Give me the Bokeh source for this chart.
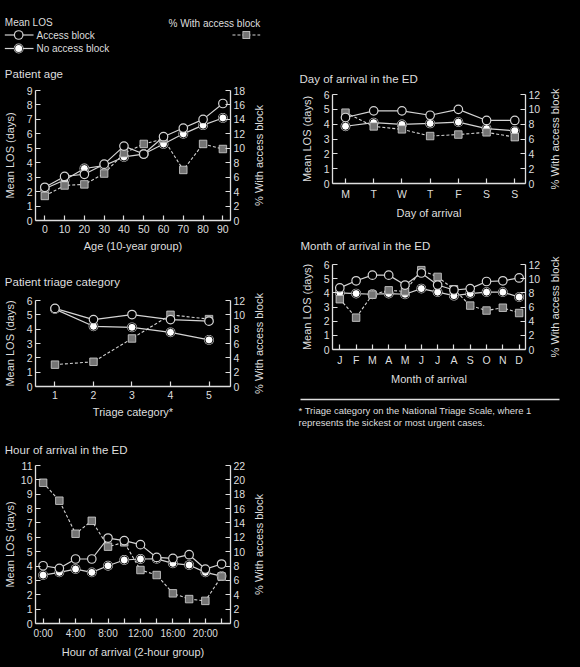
import math
from bokeh.plotting import figure
from bokeh.models import Range1d, LinearAxis, FixedTicker, Spacer
from bokeh.layouts import column, row
from bokeh.embed import file_html
from bokeh.resources import INLINE
from bokeh.core.properties import value

# ---------------- data ----------------
age_x = [0, 10, 20, 30, 40, 50, 60, 70, 80, 90]
age_ab = [2.3, 3.05, 3.2, 3.9, 5.15, 4.6, 5.8, 6.4, 7.0, 8.1]
age_nab = [2.2, 2.8, 3.6, 3.8, 4.4, 4.6, 5.3, 6.0, 6.6, 7.1]
age_pct = [3.4, 4.85, 5.0, 6.5, 9.3, 10.6, 11.3, 7.0, 10.6, 9.9]

triage_x = [1, 2, 3, 4, 5]
triage_ab = [5.45, 4.67, 5.02, 4.67, 4.56]
triage_nab = [5.4, 4.2, 4.13, 3.78, 3.25]
triage_pct = [3.05, 3.45, 6.7, 10.0, 9.4]

hour_x = [0, 2, 4, 6, 8, 10, 12, 14, 16, 18, 20, 22]
hour_ticklabels = {0: "0:00", 4: "4:00", 8: "8:00", 12: "12:00", 16: "16:00", 20: "20:00"}
hour_ab = [4.02, 3.84, 4.49, 4.49, 5.95, 5.77, 5.49, 4.6, 4.53, 4.79, 3.79, 4.14]
hour_nab = [3.37, 3.56, 3.79, 3.56, 4.02, 4.42, 4.49, 4.5, 4.19, 4.07, 3.56, 3.3]
hour_pct = [19.6, 17.1, 12.5, 14.3, 10.7, 11.3, 7.45, 6.75, 4.2, 3.4, 3.15, 6.55]

day_labels = ["M", "T", "W", "T", "F", "S", "S"]
day_ab = [4.45, 4.9, 4.9, 4.6, 5.0, 4.25, 4.25]
day_nab = [3.86, 4.1, 3.98, 4.05, 4.14, 3.7, 3.55]
day_pct = [9.55, 7.7, 7.3, 6.4, 6.6, 6.9, 6.25]

month_labels = ["J", "F", "M", "A", "M", "J", "J", "A", "S", "O", "N", "D"]
month_ab = [4.35, 4.85, 5.25, 5.25, 4.55, 5.4, 4.55, 4.2, 4.3, 4.8, 4.85, 5.05]
month_nab = [4.0, 3.95, 3.9, 3.95, 3.9, 4.3, 4.05, 3.8, 3.95, 4.05, 4.05, 3.7]
month_pct = [7.1, 4.5, 7.75, 8.35, 8.2, 11.2, 10.25, 8.5, 6.2, 5.5, 5.9, 5.15]

# ---------------- style ----------------
FONT = "Liberation Sans"
BG = "#000000"
TXT = "#dedede"
LINE = "#d4d4d4"
SQ = "#747474"
RING = "#111111"


def style_axis(ax):
    ax.axis_line_color = TXT
    ax.axis_line_width = 1.3
    ax.major_tick_line_color = TXT
    ax.major_tick_line_width = 1.2
    ax.major_tick_in = 5
    ax.major_tick_out = 0
    ax.minor_tick_line_color = None
    ax.major_label_text_color = TXT
    ax.major_label_text_font = FONT
    ax.major_label_text_font_size = "10.5px"
    ax.axis_label_text_color = TXT
    ax.axis_label_text_font = FONT
    ax.axis_label_text_font_size = "11px"
    ax.axis_label_text_font_style = "normal"


def panel(title, xs, ab, nab, pct, ymax, pmax, xr, ticks, overrides, xlabel,
          w, h, bl, br, bt, bb, title_xy, ylab_standoff=8, tick_font="10.5px"):
    p = figure(width=w, height=h, x_range=Range1d(*xr), y_range=Range1d(0, ymax),
               output_backend="svg", toolbar_location=None, title=None,
               min_border_left=bl, min_border_right=br,
               min_border_top=bt, min_border_bottom=bb,
               background_fill_color=BG, border_fill_color=BG,
               outline_line_color=None)
    p.grid.visible = False
    p.extra_y_ranges = {"pct": Range1d(0, pmax)}

    fw = w - bl - br
    fh = h - bt - bb

    def px_to_data(px, py):
        # px, py: pixels from the figure's top-left corner
        xd = xr[0] + (px - bl) * (xr[1] - xr[0]) / fw
        yd = (bt + fh - py) * ymax / fh
        return xd, yd

    tx, ty = px_to_data(*title_xy)
    p.text(x=[tx], y=[ty], text=[title], text_color=TXT, text_font=value(FONT),
           text_font_size="11.5px", text_baseline="middle", text_align="left",
           level="overlay")

    rx, ry = px_to_data(bl + fw + 29, bt + fh / 2)
    p.text(x=[rx], y=[ry], text=["% With access block"], angle=math.pi / 2,
           text_color=TXT, text_font=value(FONT), text_font_size="11px",
           text_align="center", text_baseline="middle", level="overlay")

    xa = p.xaxis[0]
    style_axis(xa)
    xa.ticker = FixedTicker(ticks=ticks)
    xa.major_label_overrides = overrides
    xa.major_label_text_font_size = tick_font
    xa.major_label_standoff = 4
    xa.axis_label = xlabel
    xa.axis_label_standoff = 4

    ya = p.yaxis[0]
    style_axis(ya)
    ya.ticker = FixedTicker(ticks=list(range(0, ymax + 1)))
    ya.major_label_standoff = 3
    ya.axis_label = "Mean LOS (days)"
    ya.axis_label_standoff = ylab_standoff

    ra = LinearAxis(y_range_name="pct")
    style_axis(ra)
    ra.ticker = FixedTicker(ticks=list(range(0, pmax + 1, 2)))
    ra.major_label_standoff = 3
    p.add_layout(ra, "right")

    p.line(xs, pct, y_range_name="pct", line_color=LINE, line_width=1.1, line_dash="3 2")
    p.line(xs, nab, line_color=LINE, line_width=1.2)
    p.line(xs, ab, line_color=LINE, line_width=1.2)
    # no access block: white disc with a dark ring and a light rim
    p.scatter(xs, nab, marker="circle", size=9.8, fill_color=LINE, line_color=None)
    p.scatter(xs, nab, marker="circle", size=8.0, fill_color="#ffffff",
              line_color=RING, line_width=1.0)
    p.scatter(xs, pct, y_range_name="pct", marker="square", size=7.5,
              fill_color=SQ, line_color=LINE, line_width=0.8)
    p.scatter(xs, ab, marker="circle", size=8.5, fill_color=BG,
              line_color=LINE, line_width=1.2)
    return p


def blank(w, h, bl, br):
    # a guide-only canvas whose data units equal pixels of the canvas
    f = figure(width=w, height=h, x_range=Range1d(bl, w - br), y_range=Range1d(h, 0),
               output_backend="svg", toolbar_location=None, title=None,
               x_axis_location=None, y_axis_location=None,
               min_border_left=bl, min_border_right=br, min_border_top=0,
               min_border_bottom=0, background_fill_color=BG, border_fill_color=BG,
               outline_line_color=None)
    f.grid.visible = False
    return f


# ---------------- legend (keys drawn as strokes so they show in the margin) ----------------
leg = blank(290, 62, 33, 60)
tk = dict(text_color=TXT, text_font=value(FONT), text_font_size="10px",
          text_baseline="middle", level="overlay")
leg.text(x=[2], y=[22], text=["Mean LOS"], **tk)
leg.text(x=[34], y=[34.5], text=["Access block"], **tk)
leg.text(x=[34], y=[48], text=["No access block"], **tk)
leg.text(x=[260], y=[22.5], text=["% With access block"], text_align="right", **tk)
leg.segment(x0=[2, 2], y0=[34.5, 48], x1=[31, 31], y1=[34.5, 48], line_color=LINE,
            line_width=1.2, level="overlay")
leg.segment(x0=[232], y0=[34.5], x1=[260], y1=[34.5], line_color=LINE, line_width=1.1,
            line_dash="3 2", level="overlay")
# access block key: open (dark) circle
leg.segment(x0=[15.99], y0=[34.5], x1=[16.01], y1=[34.5], line_color=LINE,
            line_width=9.7, line_cap="round", level="overlay")
leg.segment(x0=[15.99], y0=[34.5], x1=[16.01], y1=[34.5], line_color=BG,
            line_width=7.3, line_cap="round", level="overlay")
# no access block key: white circle with ring
leg.segment(x0=[15.99], y0=[48], x1=[16.01], y1=[48], line_color=LINE,
            line_width=9.8, line_cap="round", level="overlay")
leg.segment(x0=[15.99], y0=[48], x1=[16.01], y1=[48], line_color=RING,
            line_width=8.6, line_cap="round", level="overlay")
leg.segment(x0=[15.99], y0=[48], x1=[16.01], y1=[48], line_color="#ffffff",
            line_width=7.0, line_cap="round", level="overlay")
# % with access block key: grey square
leg.segment(x0=[242.1], y0=[34.5], x1=[249.9], y1=[34.5], line_color=LINE,
            line_width=7.8, line_cap="butt", level="overlay")
leg.segment(x0=[242.9], y0=[34.5], x1=[249.1], y1=[34.5], line_color=SQ,
            line_width=6.2, line_cap="butt", level="overlay")

# ---------------- panels ----------------
p_age = panel("Patient age", age_x, age_ab, age_nab, age_pct, 9, 18, (-4.7, 93.85),
              age_x, {}, "Age (10-year group)", 290, 193, 33, 60, 28, 35, (2, 11))
p_tri = panel("Patient triage category", triage_x, triage_ab, triage_nab, triage_pct,
              6, 12, (0.494, 5.558), triage_x, {}, "Triage category*",
              290, 170, 33, 60, 45, 39, (2, 26.5))
p_hour = panel("Hour of arrival in the ED", hour_x, hour_ab, hour_nab, hour_pct,
               11, 22, (-0.94, 23.1), hour_x,
               {h: hour_ticklabels.get(h, "") for h in hour_x},
               "Hour of arrival (2-hour group)", 290, 242, 33, 60, 40, 44, (2, 24),
               ylab_standoff=2, tick_font="10px")
day_x = list(range(len(day_labels)))
p_day = panel("Day of arrival in the ED", day_x, day_ab, day_nab, day_pct, 6, 12,
              (-0.461, 6.38), day_x, {i: s for i, s in enumerate(day_labels)},
              "Day of arrival", 290, 180, 42, 55, 44, 47, (9, 28.3))
month_x = list(range(len(month_labels)))
p_month = panel("Month of arrival in the ED", month_x, month_ab, month_nab, month_pct,
                6, 12, (-0.448, 11.39), month_x, {i: s for i, s in enumerate(month_labels)},
                "Month of arrival", 290, 160, 42, 55, 34, 41, (10, 15.7))

# ---------------- footnote ----------------
foot = blank(290, 277, 42, 55)
foot.segment(x0=[10], y0=[9], x1=[269], y1=[9], line_color=TXT, line_width=1.3,
             level="overlay")
fk = dict(text_color=TXT, text_font=value(FONT), text_font_size="9.5px",
          text_baseline="middle", level="overlay")
foot.text(x=[8], y=[20], text=["* Triage category on the National Triage Scale, where 1"], **fk)
foot.text(x=[8], y=[32], text=["represents the sickest or most urgent cases."], **fk)

left = column(leg, p_age, p_tri, p_hour, spacing=0)
right = column(Spacer(width=290, height=50), p_day, p_month, foot, spacing=0)
p = row(left, right, spacing=0)

html = file_html(p, INLINE)
html = html.replace("<head>", "<head><style>html,body{margin:0;padding:0;background:#000;overflow:hidden}</style>", 1)
open("out.html", "w").write(html)
